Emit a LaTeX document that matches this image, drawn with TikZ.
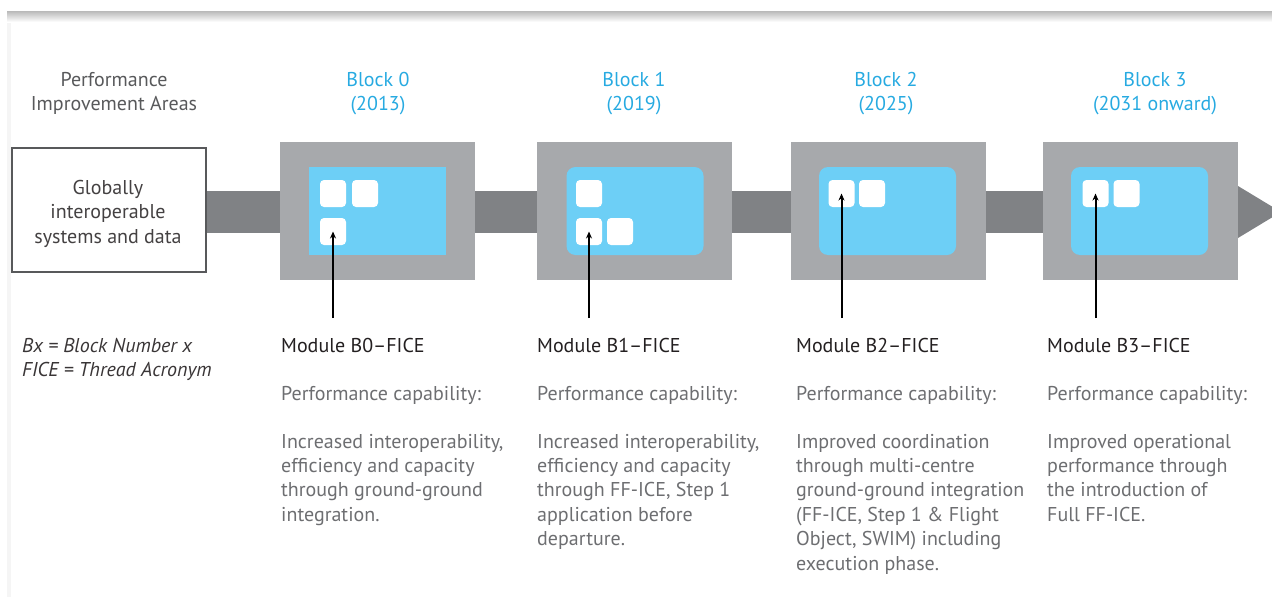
\documentclass[tikz,border=0pt]{standalone}
\usepackage{fontspec}
\setmainfont{PT Sans}
\usetikzlibrary{arrows.meta}
\definecolor{sqgray}{HTML}{A7A9AC}
\definecolor{bargray}{HTML}{808285}
\definecolor{modblue}{HTML}{6DCFF6}
\definecolor{titleblue}{HTML}{27AAE1}
\definecolor{darktxt}{HTML}{231F20}
\definecolor{desctxt}{HTML}{6D6E71}
\definecolor{headtxt}{HTML}{58595B}
\tikzset{
  x=1pt, y=-1pt,
  txt/.style={inner sep=0pt, font=\fontsize{20}{24.4}\selectfont},
  head/.style={txt, text=headtxt, align=center, anchor=base},
  blocktitle/.style={txt, text=titleblue, align=center, anchor=base},
  modtitle/.style={txt, text=darktxt, anchor=base west},
  desc/.style={txt, text=desctxt, align=left, anchor=base west},
  graysq/.style={fill=sqgray, draw=none, minimum width=195pt, minimum height=138pt, inner sep=0pt},
  bluebox/.style={fill=modblue, draw=none, minimum width=137pt, minimum height=88pt, inner sep=0pt},
  cell/.style={fill=white, draw=none, minimum width=26pt, minimum height=27pt, inner sep=0pt, rounded corners=4pt},
  pointer/.style={line width=2pt, draw=black, -{Stealth[length=7pt,width=6pt]}},
}
\begin{document}
\begin{tikzpicture}
\useasboundingbox (0,0) rectangle (1272,597);
\clip (0,0) rectangle (1272,597);
% page frame shading
\fill[gray!8] (7,13) rectangle (11,597);
\shade[top color=gray!55, bottom color=white] (7,11) rectangle (1272,22);
% bar and arrow head
\fill[bargray] (207,191) rectangle (1238,233);
\fill[bargray] (1238,186) -- (1281,212) -- (1238,238) -- cycle;
% left box
\node[draw=headtxt, line width=2pt, fill=white, minimum width=194pt, minimum height=124pt, inner sep=0pt] (pia) at (109,210) {};
\node[head, text=darktxt!85] (piatxt) at (108,243) {Globally\\interoperable\\systems and data};
\node[head] (piahead) at (114,110.4) {Performance\\Improvement Areas};
% blocks
\node[graysq] (g0) at (377.5,211) {};
\node[graysq] (g1) at (634,211) {};
\node[graysq] (g2) at (888,211) {};
\node[graysq] (g3) at (1140,211) {};
\node[bluebox] (b0) at (377.5,211) {};
\node[bluebox, rounded corners=9pt] (b1) at (635,211) {};
\node[bluebox, rounded corners=9pt] (b2) at (887.5,211) {};
\node[bluebox, rounded corners=9pt] (b3) at (1139.5,211) {};
% cells
\node[cell] (c01) at (333,193.5) {};
\node[cell] (c02) at (365,193.5) {};
\node[cell] (c03) at (333,231.5) {};
\node[cell] (c11) at (589,193.5) {};
\node[cell] (c12) at (589,231.5) {};
\node[cell] (c13) at (620,231.5) {};
\node[cell] (c21) at (841.5,193.5) {};
\node[cell] (c22) at (872,193.5) {};
\node[cell] (c31) at (1095.5,193.5) {};
\node[cell] (c32) at (1126.5,193.5) {};
% block titles
\node[blocktitle] (t0) at (378,110.4) {Block 0\\(2013)};
\node[blocktitle] (t1) at (634,110.4) {Block 1\\(2019)};
\node[blocktitle] (t2) at (886,110.4) {Block 2\\(2025)};
\node[blocktitle] (t3) at (1155,110.4) {Block 3\\(2031 onward)};
% legend
\node[desc, text=darktxt!90, font=\fontsize{20}{24}\selectfont\itshape] (leg) at (22,376) {Bx = Block Number x\\FICE = Thread Acronym};
% module titles
\node[modtitle] (m0) at (281,352) {Module B0–FICE};
\node[modtitle] (m1) at (537,352) {Module B1–FICE};
\node[modtitle] (m2) at (796,352) {Module B2–FICE};
\node[modtitle] (m3) at (1047,352) {Module B3–FICE};
% pointers
\coordinate (p0) at (333,318);
\coordinate (p1) at (589,318);
\coordinate (p2) at (841.5,318);
\coordinate (p3) at (1095.5,318);
\draw[pointer] (p0) -- (c03.center);
\draw[pointer] (p1) -- (c12.center);
\draw[pointer] (p2) -- (c21.center);
\draw[pointer] (p3) -- (c31.center);
% capability labels
\node[desc] (pc0) at (281,400) {Performance capability:};
\node[desc] (pc1) at (537,400) {Performance capability:};
\node[desc] (pc2) at (796,400) {Performance capability:};
\node[desc] (pc3) at (1047,400) {Performance capability:};
% descriptions (anchored at last line baseline)
\node[desc] (d0) at (281,521.2) {Increased interoperability,\\efficiency and capacity\\through ground-ground\\integration.};
\node[desc] (d1) at (537,545.6) {Increased interoperability,\\efficiency and capacity\\through FF-ICE, Step 1\\application before\\departure.};
\node[desc] (d2) at (796,570) {Improved coordination\\through multi-centre\\ground-ground integration\\(FF-ICE, Step 1 \& Flight\\Object, SWIM) including\\execution phase.};
\node[desc] (d3) at (1047,521.2) {Improved operational\\performance through\\the introduction of\\Full FF-ICE.};
\end{tikzpicture}
\end{document}
